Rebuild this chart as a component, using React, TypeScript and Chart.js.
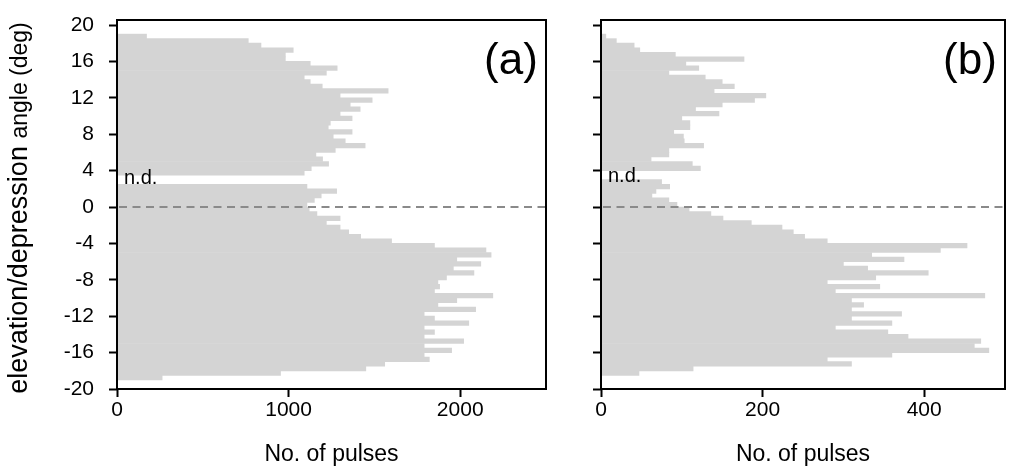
import React, { useEffect, useRef } from 'react';
import { Chart, registerables } from 'chart.js';

Chart.register(...registerables);

// elevation/depression angle bin centres (deg), 0.5 deg bins from 19 to -19
const angles = [
  18.75, 18.25, 17.75, 17.25, 16.75, 16.25, 15.75, 15.25, 14.75, 14.25,
  13.75, 13.25, 12.75, 12.25, 11.75, 11.25, 10.75, 10.25, 9.75, 9.25,
  8.75, 8.25, 7.75, 7.25, 6.75, 6.25, 5.75, 5.25, 4.75, 4.25,
  3.75, 3.25, 2.75, 2.25, 1.75, 1.25, 0.75, 0.25, -0.25, -0.75,
  -1.25, -1.75, -2.25, -2.75, -3.25, -3.75, -4.25, -4.75, -5.25, -5.75,
  -6.25, -6.75, -7.25, -7.75, -8.25, -8.75, -9.25, -9.75, -10.25, -10.75,
  -11.25, -11.75, -12.25, -12.75, -13.25, -13.75, -14.25, -14.75, -15.25, -15.75,
  -16.25, -16.75, -17.25, -17.75, -18.25, -18.75,
];

// panel (a): number of pulses per bin (null = n.d.)
const pulsesA = [
  172, 765, 839, 1027, 981, 981, 1126, 1283, 1220, 1091,
  1126, 1196, 1580, 1300, 1487, 1359, 1417, 1300, 1370, 1243,
  1231, 1370, 1260, 1330, 1446, 1272, 1159, 1198, 1233, 1132,
  1091, null, null, 1107, 1280, 1190, 1150, 1107, 1120, 1165,
  1300, 1220, 1300, 1350, 1420, 1600, 1850, 2150, 2180, 1980,
  2120, 1960, 2080, 1920, 1870, 1880, 1850, 2190, 1980, 1870,
  2090, 1790, 1850, 2050, 1790, 1850, 1790, 2020, 1790, 1950,
  1790, 1820, 1560, 1450, 953, 263,
];

// panel (b): number of pulses per bin (null = n.d.)
const pulsesB = [
  6, 19, 41, 48, 92, 177, 105, 121, 84, 129,
  150, 165, 140, 204, 190, 150, 117, 146, 100, 110,
  110, 90, 102, 103, 127, 84, 84, 62, 113, 123,
  null, null, 75, 85, 68, 63, 84, 94, 109, 136,
  151, 186, 224, 238, 252, 280, 453, 420, 335, 375,
  300, 330, 405, 340, 280, 345, 290, 475, 310, 325,
  310, 372, 310, 360, 290, 355, 380, 470, 462, 480,
  360, 280, 310, 114, 47, null,
];

const yTicks = [-20, -16, -12, -8, -4, 0, 4, 8, 12, 16, 20];
const xTicksA = [0, 1000, 2000];
const xTicksB = [0, 200, 400];

const FONT = "'Liberation Sans', Arial, Helvetica, sans-serif";
const BAR_COLOR = '#d4d4d4';

const decorPlugin = {
  id: 'panelDecor',
  afterDatasetsDraw(chart: any, _args: any, opts: any) {
    const { ctx, chartArea: ca, scales } = chart;
    const y = scales.y;
    ctx.save();
    // dashed zero line
    const y0 = y.getPixelForValue(0);
    ctx.strokeStyle = '#8a8a8a';
    ctx.lineWidth = 2;
    ctx.setLineDash([8, 5.5]);
    ctx.beginPath();
    ctx.moveTo(ca.left + 2, y0);
    ctx.lineTo(ca.right, y0);
    ctx.stroke();
    ctx.setLineDash([]);
    // frame
    ctx.strokeStyle = '#000';
    ctx.lineWidth = 2;
    ctx.strokeRect(ca.left, ca.top, ca.right - ca.left, ca.bottom - ca.top);
    // panel label
    ctx.fillStyle = '#000';
    ctx.font = `44px ${FONT}`;
    ctx.textAlign = 'center';
    ctx.textBaseline = 'middle';
    ctx.fillText(opts.label, ca.right - 35, ca.top + 42);
    // n.d.
    ctx.font = `20px ${FONT}`;
    ctx.textAlign = 'left';
    ctx.fillText('n.d.', ca.left + 7, y.getPixelForValue(opts.ndAt));
    // x title
    ctx.font = `23px ${FONT}`;
    ctx.textAlign = 'center';
    ctx.fillText('No. of pulses', (ca.left + ca.right) / 2, 455);
    // y title
    if (opts.yTitle) {
      const p1 = 'elevation/depression ';
      const p2 = 'angle (deg)';
      ctx.font = `27px ${FONT}`;
      const w1 = ctx.measureText(p1).width;
      ctx.font = `23px ${FONT}`;
      const w2 = ctx.measureText(p2).width;
      const total = w1 + w2;
      const yc = 208;
      ctx.translate(27, yc);
      ctx.rotate(-Math.PI / 2);
      ctx.textAlign = 'left';
      ctx.textBaseline = 'alphabetic';
      ctx.font = `27px ${FONT}`;
      ctx.fillText(p1, -total / 2, 0);
      ctx.font = `23px ${FONT}`;
      ctx.fillText(p2, -total / 2 + w1, 0);
    }
    ctx.restore();
  },
};

function buildChart(
  canvas: HTMLCanvasElement,
  values: (number | null)[],
  xMax: number,
  xTicks: number[],
  showYLabels: boolean,
  yAxisWidth: number,
  rightPad: number,
  label: string,
  ndAt: number,
) {
  const data = angles
    .map((a, i) => ({ y: a, x: values[i] }))
    .filter((d) => d.x !== null);
  const axisGrid = {
    drawOnChartArea: false,
    drawTicks: true,
    offset: false,
    tickLength: 8,
    tickWidth: 2,
    tickColor: '#000',
  };
  return new Chart(canvas, {
    type: 'bar',
    data: {
      datasets: [
        {
          data: data as any,
          backgroundColor: BAR_COLOR,
          borderWidth: 0,
          barPercentage: 1,
          categoryPercentage: 1,
        },
      ],
    },
    options: {
      indexAxis: 'y',
      responsive: false,
      animation: false,
      layout: { padding: { top: 20, right: rightPad, left: 0, bottom: 0 } },
      plugins: {
        legend: { display: false },
        tooltip: { enabled: false },
        panelDecor: { label, ndAt, yTitle: showYLabels },
      } as any,
      scales: {
        x: {
          type: 'linear',
          min: 0,
          max: xMax,
          offset: false,
          afterBuildTicks: (s: any) => {
            s.ticks = xTicks.map((v) => ({ value: v }));
          },
          afterFit: (s: any) => {
            s.height = 470 - 389;
            s.paddingLeft = 0;
            s.paddingRight = 0;
          },
          ticks: {
            color: '#000',
            font: { family: FONT, size: 21 },
            padding: 1,
            maxRotation: 0,
            callback: (v: any) => String(v),
          },
          grid: axisGrid,
          border: { display: false },
        },
        y: {
          type: 'linear',
          min: -20,
          max: 20.55,
          offset: false,
          afterBuildTicks: (s: any) => {
            s.ticks = yTicks.map((v) => ({ value: v }));
          },
          afterFit: (s: any) => {
            s.width = yAxisWidth;
            s.paddingTop = 0;
            s.paddingBottom = 0;
          },
          ticks: {
            display: showYLabels,
            color: '#000',
            font: { family: FONT, size: 21 },
            padding: 15,
            callback: (v: any) => String(v),
          },
          grid: axisGrid,
          border: { display: false },
        },
      },
    },
    plugins: [decorPlugin],
  } as any);
}

export default function App() {
  const refA = useRef<HTMLCanvasElement>(null);
  const refB = useRef<HTMLCanvasElement>(null);

  useEffect(() => {
    const a = buildChart(refA.current!, pulsesA, 2500, xTicksA, true, 117, 14, '(a)', 3.1);
    const b = buildChart(refB.current!, pulsesB, 500, xTicksB, false, 41, 6, '(b)', 3.3);
    return () => {
      a.destroy();
      b.destroy();
    };
  }, []);

  return (
    <div
      style={{
        position: 'absolute',
        left: 0,
        top: 0,
        width: 1011,
        height: 470,
        background: '#fff',
        overflow: 'hidden',
      }}
    >
      <canvas
        ref={refA}
        width={560}
        height={470}
        style={{ position: 'absolute', left: 0, top: 0 }}
      />
      <canvas
        ref={refB}
        width={451}
        height={470}
        style={{ position: 'absolute', left: 560, top: 0 }}
      />
    </div>
  );
}
